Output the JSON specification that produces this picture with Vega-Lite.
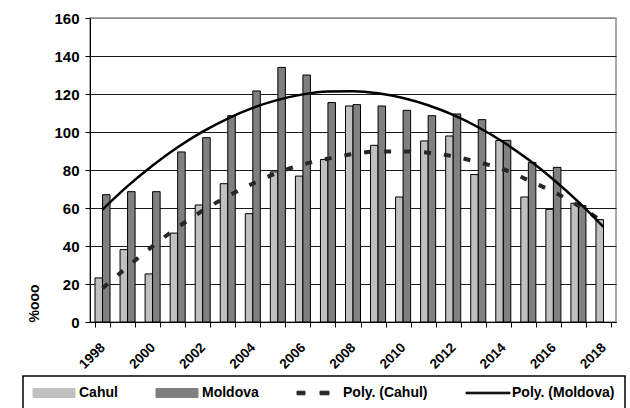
{
  "$schema": "https://vega.github.io/schema/vega-lite/v6.json",
  "width": 526,
  "height": 304,
  "autosize": {"type": "none"},
  "padding": {"left": 90, "top": 18, "right": 14, "bottom": 86},
  "background": "white",
  "config": {"font": "Liberation Sans", "view": {"stroke": "#8c8c8c", "strokeWidth": 1.5}},
  "data": {"values": [
    {"year": 1998, "series": "Cahul", "value": 23.2},
    {"year": 1999, "series": "Cahul", "value": 38.1},
    {"year": 2000, "series": "Cahul", "value": 25.3},
    {"year": 2001, "series": "Cahul", "value": 46.8},
    {"year": 2002, "series": "Cahul", "value": 61.6},
    {"year": 2003, "series": "Cahul", "value": 72.8},
    {"year": 2004, "series": "Cahul", "value": 57.0},
    {"year": 2005, "series": "Cahul", "value": 79.0},
    {"year": 2006, "series": "Cahul", "value": 76.8},
    {"year": 2007, "series": "Cahul", "value": 85.5},
    {"year": 2008, "series": "Cahul", "value": 113.7},
    {"year": 2009, "series": "Cahul", "value": 93.0},
    {"year": 2010, "series": "Cahul", "value": 65.8},
    {"year": 2011, "series": "Cahul", "value": 95.3},
    {"year": 2012, "series": "Cahul", "value": 97.9},
    {"year": 2013, "series": "Cahul", "value": 77.6},
    {"year": 2014, "series": "Cahul", "value": 95.5},
    {"year": 2015, "series": "Cahul", "value": 65.8},
    {"year": 2016, "series": "Cahul", "value": 59.3},
    {"year": 2017, "series": "Cahul", "value": 62.5},
    {"year": 2018, "series": "Cahul", "value": 53.9},
    {"year": 1998, "series": "Moldova", "value": 67.0},
    {"year": 1999, "series": "Moldova", "value": 68.6},
    {"year": 2000, "series": "Moldova", "value": 68.6},
    {"year": 2001, "series": "Moldova", "value": 89.5},
    {"year": 2002, "series": "Moldova", "value": 97.0},
    {"year": 2003, "series": "Moldova", "value": 108.6},
    {"year": 2004, "series": "Moldova", "value": 121.6},
    {"year": 2005, "series": "Moldova", "value": 134.0},
    {"year": 2006, "series": "Moldova", "value": 130.0},
    {"year": 2007, "series": "Moldova", "value": 115.5},
    {"year": 2008, "series": "Moldova", "value": 114.4},
    {"year": 2009, "series": "Moldova", "value": 113.7},
    {"year": 2010, "series": "Moldova", "value": 111.4},
    {"year": 2011, "series": "Moldova", "value": 108.6},
    {"year": 2012, "series": "Moldova", "value": 109.5},
    {"year": 2013, "series": "Moldova", "value": 106.5},
    {"year": 2014, "series": "Moldova", "value": 95.6},
    {"year": 2015, "series": "Moldova", "value": 84.0},
    {"year": 2016, "series": "Moldova", "value": 81.4},
    {"year": 2017, "series": "Moldova", "value": 61.3},
    {"year": 1998, "series": "Poly. (Cahul)", "value": 17.7},
    {"year": 1999, "series": "Poly. (Cahul)", "value": 29.1},
    {"year": 2000, "series": "Poly. (Cahul)", "value": 39.9},
    {"year": 2001, "series": "Poly. (Cahul)", "value": 49.8},
    {"year": 2002, "series": "Poly. (Cahul)", "value": 58.6},
    {"year": 2003, "series": "Poly. (Cahul)", "value": 66.2},
    {"year": 2004, "series": "Poly. (Cahul)", "value": 72.8},
    {"year": 2005, "series": "Poly. (Cahul)", "value": 78.6},
    {"year": 2006, "series": "Poly. (Cahul)", "value": 82.9},
    {"year": 2007, "series": "Poly. (Cahul)", "value": 86.0},
    {"year": 2008, "series": "Poly. (Cahul)", "value": 88.4},
    {"year": 2009, "series": "Poly. (Cahul)", "value": 89.8},
    {"year": 2010, "series": "Poly. (Cahul)", "value": 89.8},
    {"year": 2011, "series": "Poly. (Cahul)", "value": 89.1},
    {"year": 2012, "series": "Poly. (Cahul)", "value": 87.2},
    {"year": 2013, "series": "Poly. (Cahul)", "value": 84.1},
    {"year": 2014, "series": "Poly. (Cahul)", "value": 80.4},
    {"year": 2015, "series": "Poly. (Cahul)", "value": 74.6},
    {"year": 2016, "series": "Poly. (Cahul)", "value": 68.5},
    {"year": 2017, "series": "Poly. (Cahul)", "value": 61.2},
    {"year": 2018, "series": "Poly. (Cahul)", "value": 52.5},
    {"year": 1998, "series": "Poly. (Moldova)", "value": 59.2},
    {"year": 1999, "series": "Poly. (Moldova)", "value": 71.5},
    {"year": 2000, "series": "Poly. (Moldova)", "value": 82.4},
    {"year": 2001, "series": "Poly. (Moldova)", "value": 92.0},
    {"year": 2002, "series": "Poly. (Moldova)", "value": 100.2},
    {"year": 2003, "series": "Poly. (Moldova)", "value": 107.1},
    {"year": 2004, "series": "Poly. (Moldova)", "value": 112.7},
    {"year": 2005, "series": "Poly. (Moldova)", "value": 116.9},
    {"year": 2006, "series": "Poly. (Moldova)", "value": 119.8},
    {"year": 2007, "series": "Poly. (Moldova)", "value": 121.3},
    {"year": 2008, "series": "Poly. (Moldova)", "value": 121.5},
    {"year": 2009, "series": "Poly. (Moldova)", "value": 120.4},
    {"year": 2010, "series": "Poly. (Moldova)", "value": 117.9},
    {"year": 2011, "series": "Poly. (Moldova)", "value": 114.1},
    {"year": 2012, "series": "Poly. (Moldova)", "value": 109.0},
    {"year": 2013, "series": "Poly. (Moldova)", "value": 102.5},
    {"year": 2014, "series": "Poly. (Moldova)", "value": 94.7},
    {"year": 2015, "series": "Poly. (Moldova)", "value": 85.5},
    {"year": 2016, "series": "Poly. (Moldova)", "value": 75.0},
    {"year": 2017, "series": "Poly. (Moldova)", "value": 63.2},
    {"year": 2018, "series": "Poly. (Moldova)", "value": 50.0}
  ]},
  "encoding": {
    "x": {
      "field": "year", "type": "ordinal",
      "scale": {"paddingInner": 0.4, "paddingOuter": 0.2},
      "axis": {
        "title": null, "labelAngle": -45, "labelBaseline": "middle", "labelAlign": "right",
        "labelExpr": "datum.value % 2 == 0 ? datum.label : ''",
        "tickBand": "extent", "tickSize": 5, "tickColor": "black", "domainColor": "black",
        "labelFontSize": 13.5, "labelFontWeight": "bold", "labelColor": "black",
        "labelPadding": 18, "grid": false,
        "encode": {"labels": {"update": {"x": {"scale": "x", "field": "value", "band": 0.5, "offset": -8}}}}
      }
    },
    "y": {
      "field": "value", "type": "quantitative",
      "scale": {"domain": [0, 160]},
      "axis": {
        "title": "%ooo", "titleAnchor": "start", "titleFontSize": 14, "titleFontWeight": "bold",
        "titleColor": "black", "titlePadding": 12,
        "values": [0, 20, 40, 60, 80, 100, 120, 140, 160],
        "tickSize": 5, "tickColor": "black", "domainColor": "black",
        "labelFontSize": 15, "labelFontWeight": "bold", "labelColor": "black", "labelPadding": 6,
        "gridColor": {"condition": {"test": "datum.value == 160", "value": "#8c8c8c"}, "value": "#1a1a1a"},
        "gridOpacity": 1
      }
    },
    "color": {
      "field": "series", "type": "nominal",
      "scale": {"domain": ["Cahul", "Moldova", "Poly. (Cahul)", "Poly. (Moldova)"], "range": ["#c0c0c0", "#808080", "#262626", "#000000"]},
      "legend": {
        "title": null, "orient": "none", "legendX": -67, "legendY": 358,
        "direction": "horizontal", "columns": 4, "columnPadding": 36,
        "symbolSize": 100, "symbolStrokeWidth": 1,
        "labelFontSize": 14, "labelFontWeight": "bold", "labelColor": "black",
        "labelOffset": 32, "labelLimit": 200, "strokeColor": "black", "padding": 10, "fillColor": "white",
        "encode": {
          "symbols": {"update": {
            "shape": {"signal": "datum.value == 'Cahul' || datum.value == 'Moldova' ? 'M-1.4,-0.9H7V0.9H-1.4Z' : (datum.value == 'Poly. (Cahul)' ? 'M-1.4,-0.36H0.2V0.36H-1.4Z M3.2,-0.36H5V0.36H3.2Z' : 'M-1.4,-0.16H7.4V0.16H-1.4Z')"},
            "fill": {"signal": "datum.value == 'Cahul' ? '#c0c0c0' : (datum.value == 'Moldova' ? '#808080' : 'black')"},
            "stroke": {"value": "black"},
            "strokeWidth": {"value": 1},
            "opacity": {"value": 1}
          }},
          "legend": {"update": {"strokeWidth": {"value": 1.5}}}
        }
      }
    }
  },
  "layer": [
    {
      "transform": [{"filter": "datum.series == 'Cahul' || datum.series == 'Moldova'"}],
      "mark": {"type": "bar", "stroke": "black", "strokeWidth": 1},
      "encoding": {"xOffset": {"field": "series", "type": "nominal", "scale": {"domain": ["Cahul", "Moldova"], "paddingInner": 0}}}
    },
    {
      "transform": [{"filter": "datum.series == 'Poly. (Cahul)'"}],
      "mark": {"type": "line", "strokeDash": [7, 13], "strokeWidth": 4, "interpolate": "monotone"}
    },
    {
      "transform": [{"filter": "datum.series == 'Poly. (Moldova)'"}],
      "mark": {"type": "line", "strokeWidth": 2.5, "interpolate": "monotone"}
    }
  ]
}
